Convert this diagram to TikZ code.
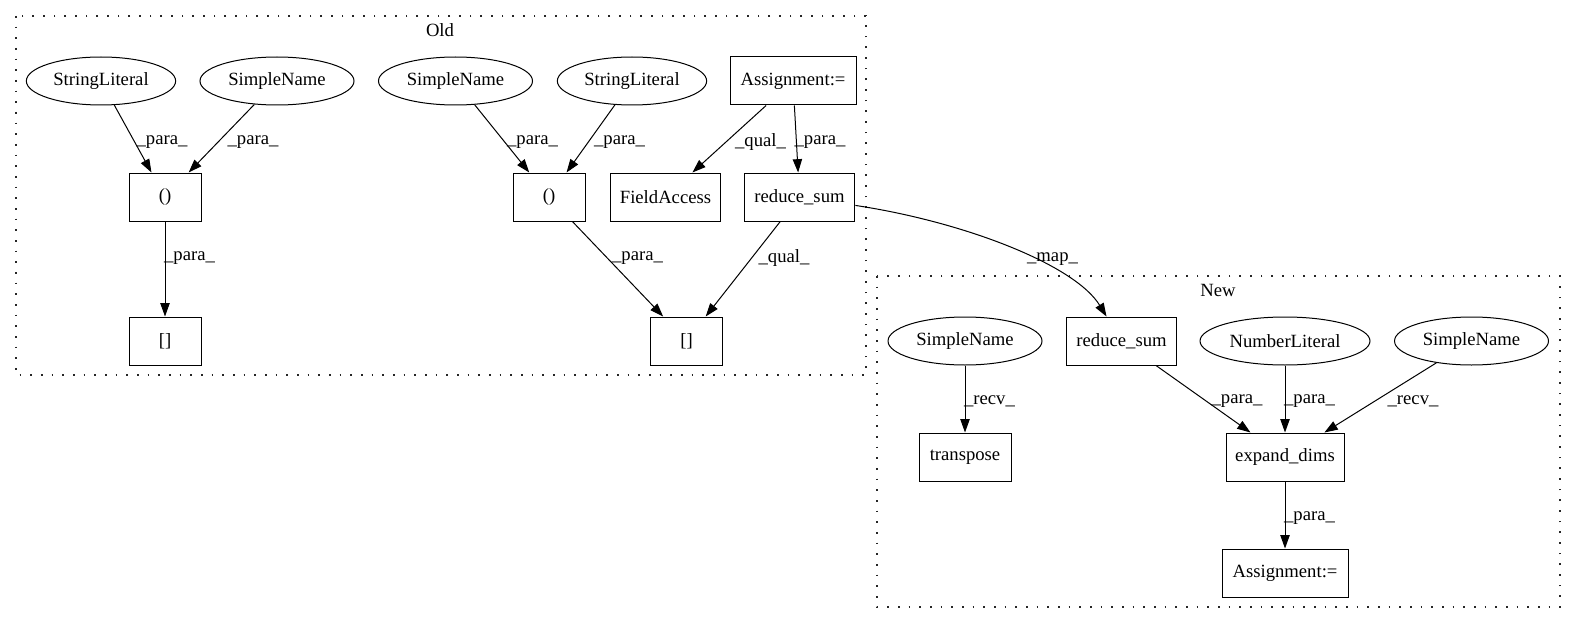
\documentclass[tikz,border=0pt]{standalone}
\usepackage{fontspec}
\setmainfont{Liberation Serif}
\usetikzlibrary{shapes.geometric,arrows.meta}
\begin{document}
\begin{tikzpicture}[x=0.75pt,y=-0.75pt, line width=0.75pt,
  every node/.style={font=\fontsize{14}{16}\selectfont, inner sep=0pt},
  ell/.style={draw, ellipse, minimum height=36pt},
  box/.style={draw, rectangle, minimum height=36pt},
  lbl/.style={font=\fontsize{14}{16}\selectfont},
  arr/.style={-{Triangle[length=10pt,width=7pt]}},
  clus/.style={draw=black!85, line width=1pt, dash pattern=on 1.3pt off 6.7pt}]
\useasboundingbox (0,0) rectangle (1576,624);
\fill[white] (0,0) rectangle (1576,624);
% clusters
\draw[clus] (16,16) rectangle (866,375);
\node (oldlbl) at (440,30) {Old};
\draw[clus] (877,276) rectangle (1560,607);
\node (newlbl) at (1218,290) {New};
% Old nodes
\node[ell, minimum width=112pt] (sl1) at (101,81) {StringLiteral};
\node[ell, minimum width=115.5pt] (sn1) at (277,81) {SimpleName};
\node[box, minimum width=54pt] (p1) at (165,197) {()};
\node[box, minimum width=54pt] (b1) at (165,341) {[]};
\node[ell, minimum width=115.5pt] (sn2) at (455.5,81) {SimpleName};
\node[ell, minimum width=112pt] (sl2) at (632,81) {StringLiteral};
\node[box, minimum width=94.5pt] (as1) at (793,81) {Assignment:=};
\node[box, minimum width=54pt] (p2) at (549,197) {()};
\node[box, minimum width=83pt] (fa) at (665.5,197) {FieldAccess};
\node[box, minimum width=83pt] (rs1) at (799.5,197) {reduce\_sum};
\node[box, minimum width=54pt] (b2) at (686.5,341) {[]};
% New nodes
\node[ell, minimum width=115.5pt] (sn3) at (965,341) {SimpleName};
\node[box, minimum width=83pt] (rs2) at (1121.5,341) {reduce\_sum};
\node[ell, minimum width=127.5pt] (nl) at (1285,341) {NumberLiteral};
\node[ell, minimum width=115.5pt] (sn4) at (1471.5,341) {SimpleName};
\node[box, minimum width=69pt] (tr) at (965,457) {transpose};
\node[box, minimum width=88.5pt] (ed) at (1285,457) {expand\_dims};
\node[box, minimum width=94.5pt] (as2) at (1285,573) {Assignment:=};
% edges Old
\draw[arr] (sl1) -- (p1) node[lbl] at (162,142) {\_para\_};
\draw[arr] (sn1) -- (p1) node[lbl] at (253,142) {\_para\_};
\draw[arr] (p1) -- (b1) node[lbl] at (189.5,258) {\_para\_};
\draw[arr] (sn2) -- (p2) node[lbl] at (532.5,142) {\_para\_};
\draw[arr] (sl2) -- (p2) node[lbl] at (619.5,142) {\_para\_};
\draw[arr] (as1) -- (fa) node[lbl] at (760.5,142) {\_qual\_};
\draw[arr] (as1) -- (rs1) node[lbl] at (820,142) {\_para\_};
\draw[arr] (p2) -- (b2) node[lbl] at (637.5,258) {\_para\_};
\draw[arr] (rs1) -- (b2) node[lbl] at (784,258) {\_qual\_};
% map edge
\draw[arr] (rs1) .. controls (965,222) and (1075,265) .. (rs2);
\node[lbl] (maplbl) at (1052.5,259) {\_map\_};
% edges New
\draw[arr] (sn3) -- (tr) node[lbl] at (989.5,401) {\_recv\_};
\draw[arr] (rs2) -- (ed) node[lbl] at (1237,401) {\_para\_};
\draw[arr] (nl) -- (ed) node[lbl] at (1309.5,401) {\_para\_};
\draw[arr] (sn4) -- (ed) node[lbl] at (1413,401) {\_recv\_};
\draw[arr] (ed) -- (as2) node[lbl] at (1309.5,518) {\_para\_};
\end{tikzpicture}
\end{document}
